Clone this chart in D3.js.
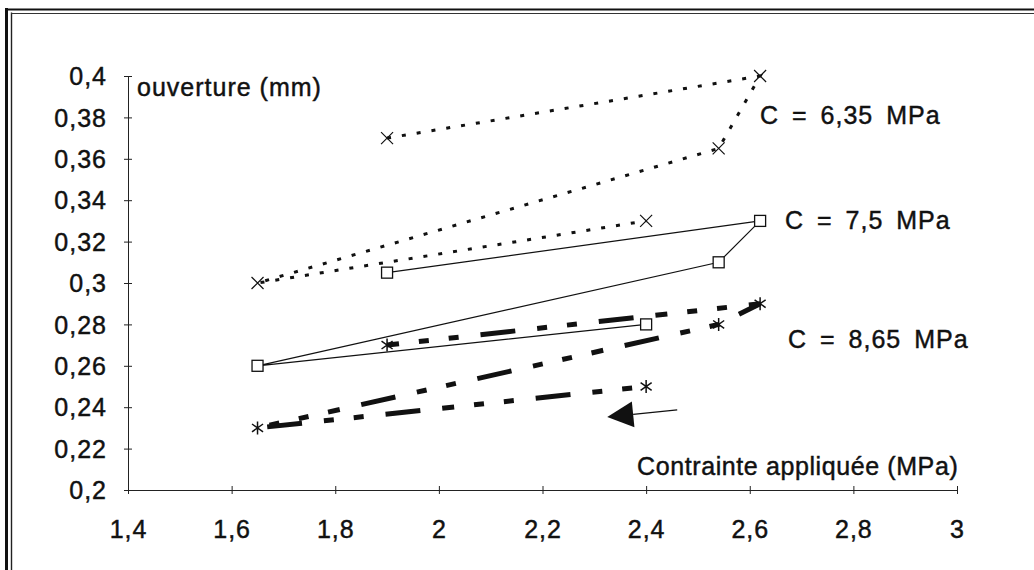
<!DOCTYPE html>
<html>
<head>
<meta charset="utf-8">
<script src="https://cdn.jsdelivr.net/npm/d3@7"></script>
<style>
  html, body { margin: 0; padding: 0; background: #fff; }
  svg { display: block; }
  text { font-family: "Liberation Sans", Arial, Helvetica, sans-serif; fill: #111; stroke: #111; stroke-width: 0.45px; }
</style>
</head>
<body>
<svg id="chart" width="1034" height="570"></svg>
<script>
// ---- data ----
const xTicks = [1.4, 1.6, 1.8, 2, 2.2, 2.4, 2.6, 2.8, 3];
const yTicks = [0.2, 0.22, 0.24, 0.26, 0.28, 0.3, 0.32, 0.34, 0.36, 0.38, 0.4];
const seriesNames = ["C = 6,35 MPa", "C = 7,5 MPa", "C = 8,65 MPa"];
const stress635 = [1.9, 2.62, 2.54, 1.65, 2.4];
const opening635 = [0.37, 0.40, 0.365, 0.30, 0.33];
const stress75 = [1.9, 2.62, 2.54, 1.65, 2.4];
const opening75 = [0.305, 0.33, 0.31, 0.26, 0.28];
const stress865 = [1.9, 2.62, 2.54, 1.65, 2.4];
const opening865 = [0.27, 0.29, 0.28, 0.23, 0.25];
const arrowStress = [2.46, 2.325];
const arrowOpening = [0.2387, 0.2353];
const xTitle = "Contrainte appliquée (MPa)";
const yTitle = "ouverture (mm)";

// ---- layout ----
const svg = d3.select("#chart");
const x = d3.scaleLinear().domain([1.4, 3]).range([128, 957]);
const y = d3.scaleLinear().domain([0.2, 0.4]).range([490, 76]);
const fmt = v => String(v).replace(".", ",");
const FS = 25, LS = 1;

// frame (left double line + top double line)
svg.append("line").attr("x1", 6.5).attr("x2", 6.5).attr("y1", 8).attr("y2", 570)
  .attr("stroke", "#111").attr("stroke-width", 3);
svg.append("line").attr("x1", 11.5).attr("x2", 11.5).attr("y1", 12.5).attr("y2", 570)
  .attr("stroke", "#222").attr("stroke-width", 1.4);
svg.append("line").attr("x1", 5).attr("x2", 1034).attr("y1", 9.5).attr("y2", 9.5)
  .attr("stroke", "#111").attr("stroke-width", 2);
svg.append("line").attr("x1", 11).attr("x2", 1034).attr("y1", 13.5).attr("y2", 13.5)
  .attr("stroke", "#333").attr("stroke-width", 1.2);

// axes
const yAxis = d3.axisLeft(y).tickValues(yTicks).tickSizeOuter(0).tickSize(4).tickFormat(fmt);
const gy = svg.append("g").attr("transform", `translate(${x(1.4)},0)`).call(yAxis);
gy.selectAll(".tick line").attr("x1", -4).attr("x2", 4).attr("stroke", "#222");
gy.select(".domain").attr("stroke", "#222");
gy.selectAll(".tick text").attr("x", -21).attr("dy", "0.35em")
  .style("font-size", FS + "px").style("letter-spacing", LS + "px")
  .style("font-family", '"Liberation Sans", Arial, sans-serif').attr("fill", "#111");

const xAxis = d3.axisBottom(x).tickValues(xTicks).tickSizeOuter(0).tickSize(4).tickFormat(fmt);
const gx = svg.append("g").attr("transform", `translate(0,${y(0.2)})`).call(xAxis);
gx.selectAll(".tick line").attr("y1", -4).attr("y2", 4).attr("stroke", "#222");
gx.select(".domain").attr("stroke", "#222");
gx.selectAll(".tick text").attr("y", 48).attr("dy", 0)
  .style("font-size", FS + "px").style("letter-spacing", LS + "px")
  .style("font-family", '"Liberation Sans", Arial, sans-serif').attr("fill", "#111");

// axis titles
svg.append("text").attr("x", 137).attr("y", 96).text(yTitle)
  .style("font-size", FS + "px").style("letter-spacing", LS + "px");
svg.append("text").attr("x", 637).attr("y", 475).text(xTitle)
  .style("font-size", FS + "px").style("letter-spacing", "0.6px");

// series
const line = d3.line().x(d => x(d[0])).y(d => y(d[1]));
const pts = (xs, ys) => xs.map((v, i) => [v, ys[i]]);
const s635 = pts(stress635, opening635);
const s75 = pts(stress75, opening75);
const s865 = pts(stress865, opening865);

svg.append("path").attr("d", line(s635)).attr("fill", "none")
  .attr("stroke", "#111").attr("stroke-width", 3).attr("stroke-dasharray", "4,11");
svg.append("path").attr("d", line(s75)).attr("fill", "none")
  .attr("stroke", "#111").attr("stroke-width", 1.2);
svg.append("path").attr("d", line(s865)).attr("fill", "none")
  .attr("stroke", "#111").attr("stroke-width", 5)
  .attr("stroke-dasharray", "12,20,10,20,10,22,35,22,10,20,10,22,35,22");

// markers
const gm = svg.append("g").attr("stroke", "#111").attr("fill", "none");
s635.forEach(d => {
  const cx = x(d[0]), cy = y(d[1]), r = 6;
  gm.append("path").attr("d", `M${cx - r},${cy - r}L${cx + r},${cy + r}M${cx - r},${cy + r}L${cx + r},${cy - r}`)
    .attr("stroke-width", 1.2);
});
s75.forEach(d => {
  const cx = x(d[0]), cy = y(d[1]), r = 5.5;
  gm.append("rect").attr("x", cx - r).attr("y", cy - r).attr("width", 2 * r).attr("height", 2 * r)
    .attr("fill", "#fff").attr("stroke-width", 1.3);
});
s865.forEach(d => {
  const cx = x(d[0]), cy = y(d[1]), r = 6.5;
  gm.append("path").attr("d",
    `M${cx},${cy - r}L${cx},${cy + r}M${cx - r * 0.85},${cy - r * 0.6}L${cx + r * 0.85},${cy + r * 0.6}M${cx - r * 0.85},${cy + r * 0.6}L${cx + r * 0.85},${cy - r * 0.6}`)
    .attr("stroke-width", 1.5);
});

// arrow annotation
const ax0 = x(arrowStress[0]), ay0 = y(arrowOpening[0]);
const ax1 = x(arrowStress[1]), ay1 = y(arrowOpening[1]);
const ang = Math.atan2(ay1 - ay0, ax1 - ax0);
const L = 26, W = 13;
const bx = ax1 - L * Math.cos(ang), by = ay1 - L * Math.sin(ang);
svg.append("line").attr("x1", ax0).attr("y1", ay0).attr("x2", bx).attr("y2", by)
  .attr("stroke", "#111").attr("stroke-width", 1.3);
svg.append("path").attr("d",
  `M${ax1},${ay1}L${bx - W * Math.sin(ang)},${by + W * Math.cos(ang)}L${bx + W * Math.sin(ang)},${by - W * Math.cos(ang)}Z`)
  .attr("fill", "#111");

// series labels
const labelPos = [[760, 124], [785, 229], [788, 348]];
seriesNames.forEach((t, i) => {
  svg.append("text").attr("x", labelPos[i][0]).attr("y", labelPos[i][1]).text(t)
    .style("font-size", FS + "px").style("letter-spacing", LS + "px").style("word-spacing", "5px");
});
</script>
</body>
</html>
